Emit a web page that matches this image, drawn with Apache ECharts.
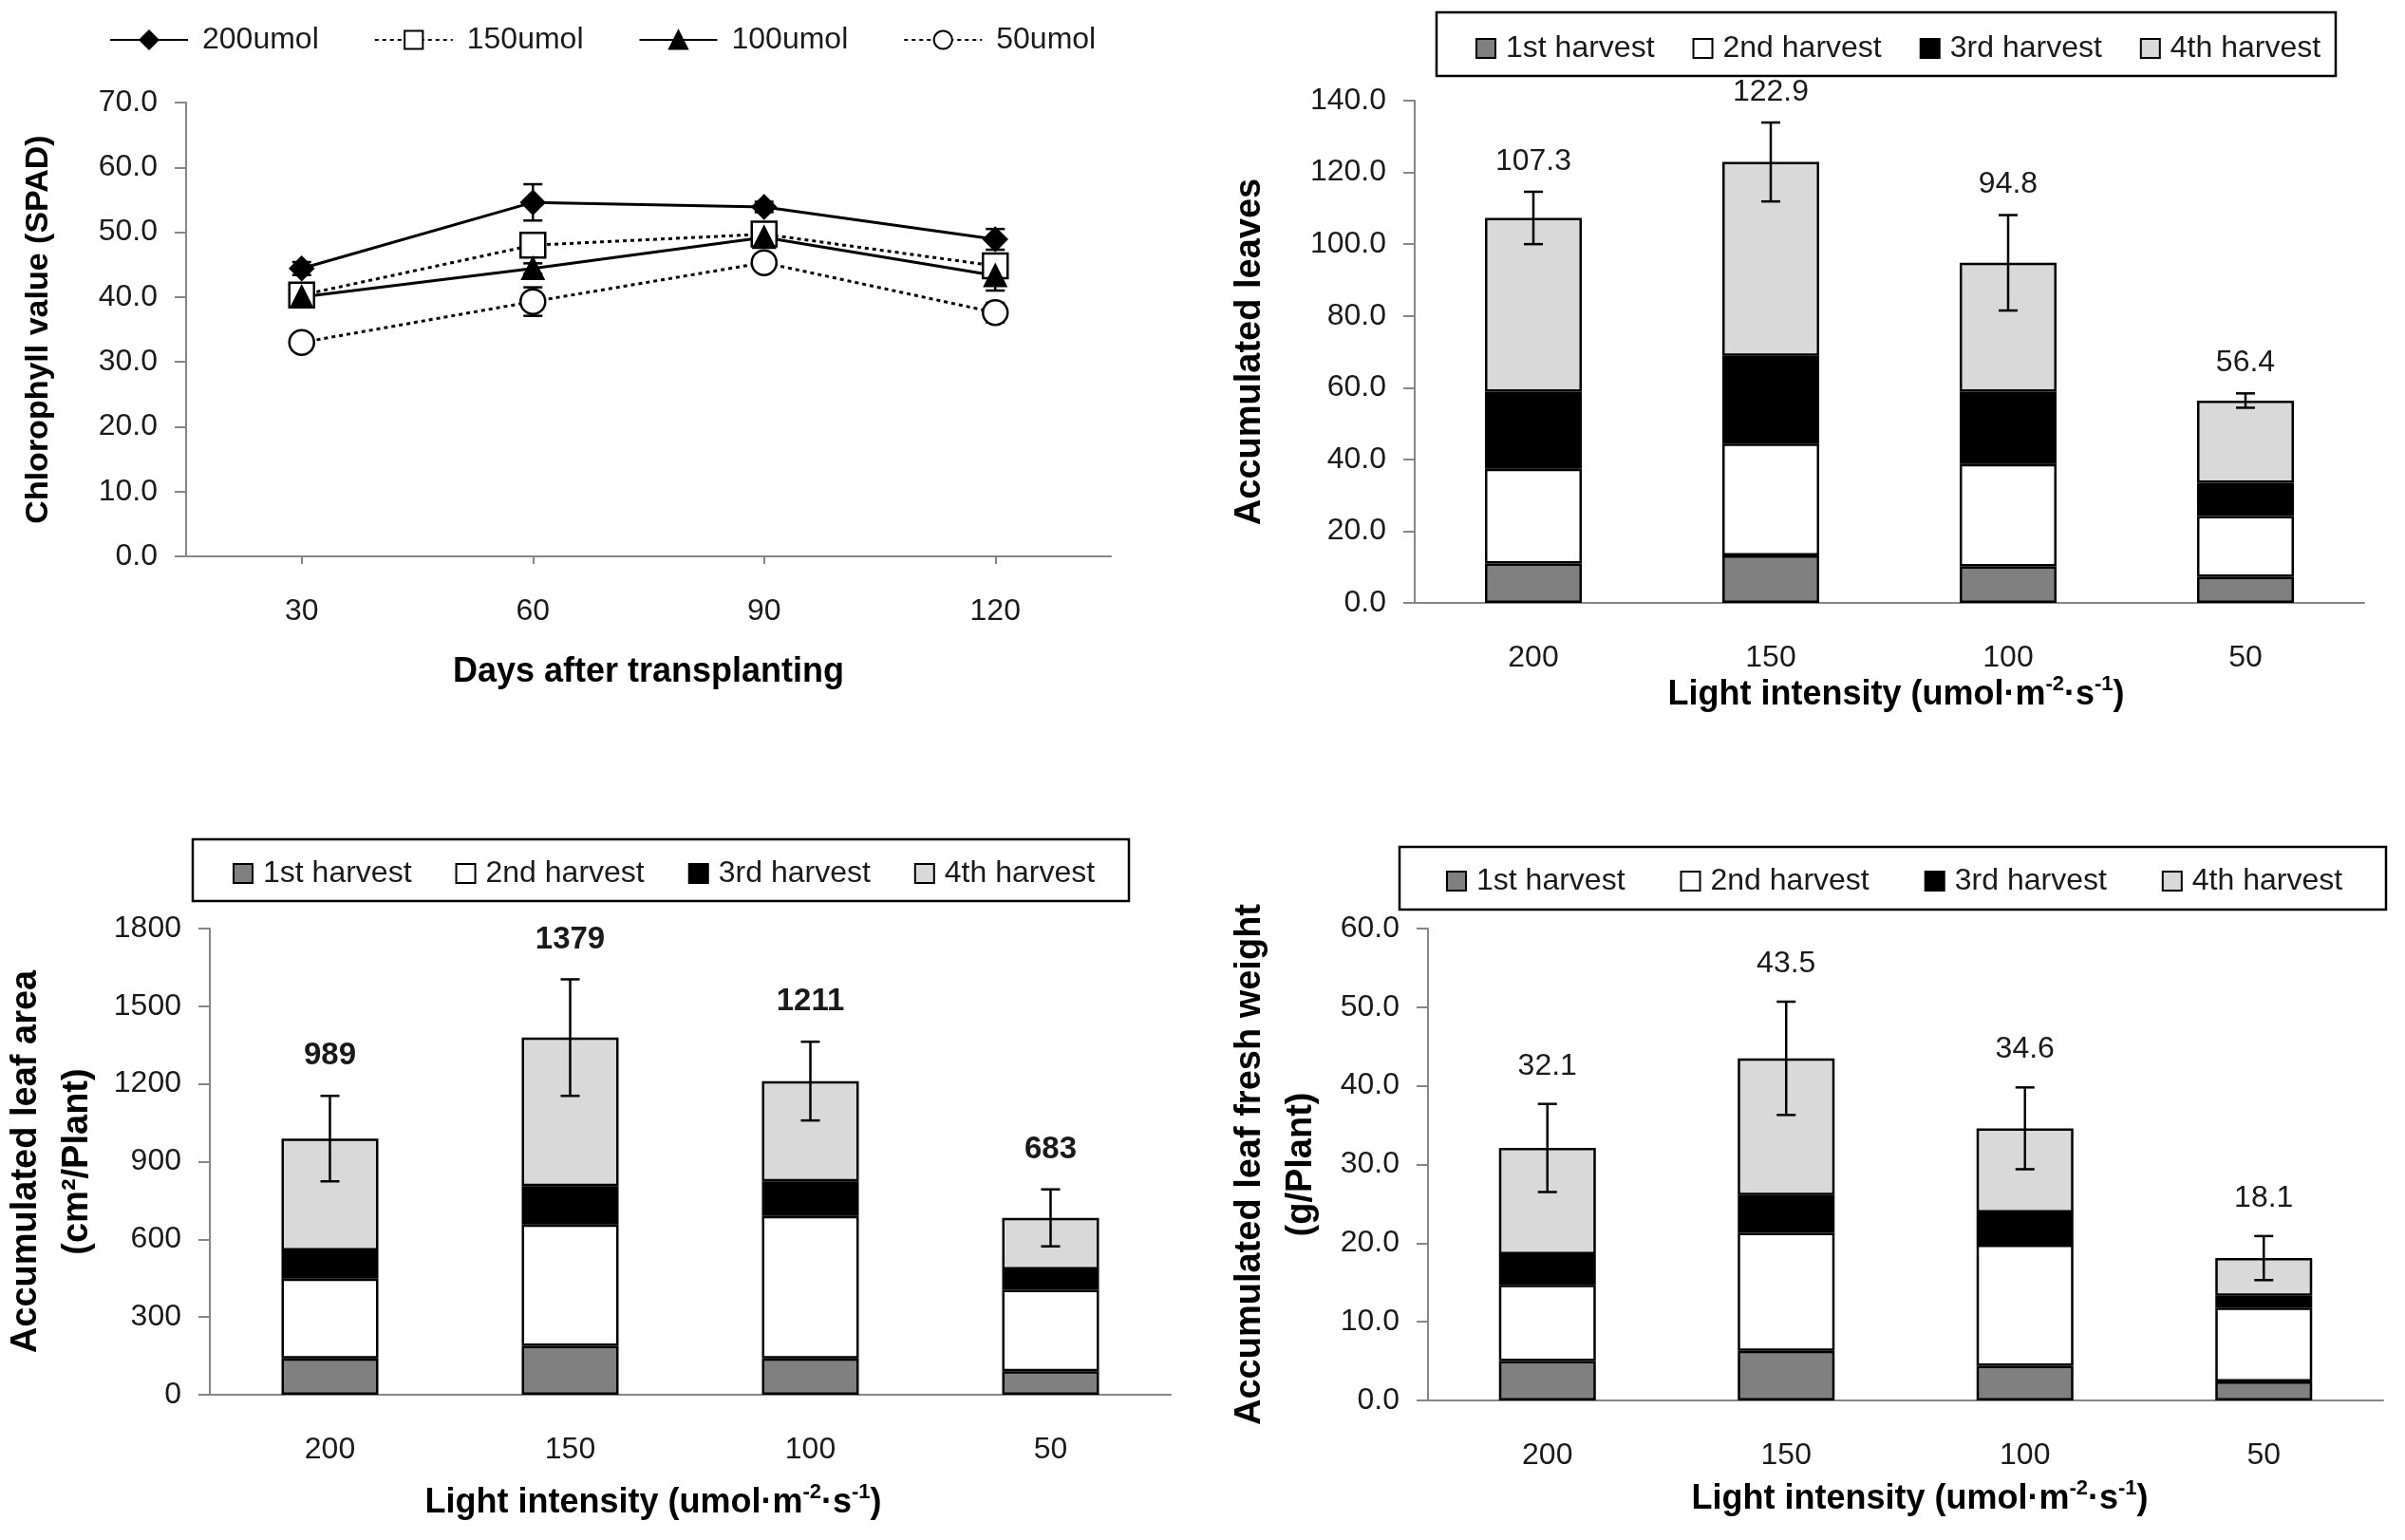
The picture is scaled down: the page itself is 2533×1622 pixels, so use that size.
<!DOCTYPE html>
<html>
<head>
<meta charset="utf-8">
<title>Light intensity charts</title>
<script src="https://cdn.jsdelivr.net/npm/echarts@6/dist/echarts.min.js"></script>
<style>
  html, body { margin: 0; padding: 0; background: #fff; }
  #chart { width: 2533px; height: 1622px; }
</style>
</head>
<body>
<div id="chart"></div>
<script>
// categories
var dayCats = ['30', '60', '90', '120'];
var lightCats = ['200', '150', '100', '50'];
var harvestNames = ['1st harvest', '2nd harvest', '3rd harvest', '4th harvest'];
var lineNames = ['200umol', '150umol', '100umol', '50umol'];

// chlorophyll (SPAD)
var spad200 = [44.4, 54.6, 53.9, 48.9];
var spad150 = [40.3, 48.0, 49.7, 44.8];
var spad100 = [40.0, 44.4, 49.2, 43.3];
var spad50 = [33.0, 39.3, 45.3, 37.6];
var spadErr200 = [1.0, 2.8, 0.8, 1.6];
var spadErr150 = [0.8, 1.4, 1.0, 1.4];
var spadErr100 = [0.8, 0.8, 1.0, 2.3];
var spadErr50 = [0.8, 2.2, 1.0, 1.5];

// accumulated leaves
var leaves1 = [11.0, 13.2, 10.2, 7.3];
var leaves2 = [26.4, 31.2, 28.5, 16.9];
var leaves3 = [21.5, 24.5, 20.2, 9.3];
var leaves4 = [48.4, 54.0, 35.9, 22.9];
var leavesTotal = [107.3, 122.9, 94.8, 56.4];
var leavesErr = [7.3, 11.0, 13.3, 2.0];

// accumulated leaf area
var area1 = [140, 189, 140, 91];
var area2 = [308, 468, 550, 314];
var area3 = [109, 149, 134, 79];
var area4 = [432, 573, 387, 199];
var areaTotal = [989, 1379, 1211, 683];
var areaErr = [165, 225, 152, 110];

// accumulated leaf fresh weight
var weight1 = [5.0, 6.3, 4.4, 2.4];
var weight2 = [9.7, 15.0, 15.4, 9.4];
var weight3 = [3.9, 4.8, 4.1, 1.5];
var weight4 = [13.5, 17.4, 10.7, 4.8];
var weightTotal = [32.1, 43.5, 34.6, 18.1];
var weightErr = [5.6, 7.2, 5.2, 2.8];

var FONT = 'Liberation Sans, Arial, sans-serif';
var harvestColors = ['#808080', '#ffffff', '#000000', '#d9d9d9'];
var axisGray = '#868686';

var chart = echarts.init(document.getElementById('chart'));

function fix1(v) { return Number(v).toFixed(1); }
function plain(v) { return String(v); }

function yAxis(gi, max, interval, fmt, name, gap, size) {
  return {
    type: 'value', gridIndex: gi, min: 0, max: max, interval: interval,
    name: name, nameLocation: 'middle', nameRotate: 90, nameGap: gap,
    nameTextStyle: { fontFamily: FONT, fontWeight: 'bold', fontSize: size, color: '#000', lineHeight: 54 },
    axisLine: { show: true, lineStyle: { color: axisGray, width: 2 } },
    axisTick: { show: true, length: 12, lineStyle: { color: axisGray, width: 2 } },
    axisLabel: { formatter: fmt, fontFamily: FONT, fontSize: 32, color: '#1a1a1a', margin: 30 },
    splitLine: { show: false }
  };
}

var supRich = {
  t: { fontFamily: FONT, fontWeight: 'bold', fontSize: 36, color: '#000', lineHeight: 44 },
  s: { fontFamily: FONT, fontWeight: 'bold', fontSize: 22, color: '#000', lineHeight: 24, verticalAlign: 'top' }
};
var lightName = '{t|Light intensity (umol·m}{s|-2}{t|·s}{s|-1}{t|)}';

function xAxis(gi, cats, name, gap, rich, ticks, pad) {
  var ts = rich ? { rich: supRich } :
    { fontFamily: FONT, fontWeight: 'bold', fontSize: 36, color: '#000' };
  ts.padding = pad;
  return {
    type: 'category', gridIndex: gi, data: cats,
    name: name, nameLocation: 'middle', nameGap: gap, nameTextStyle: ts,
    axisLine: { lineStyle: { color: axisGray, width: 2 } },
    axisTick: { show: ticks, alignWithLabel: true, length: 8, lineStyle: { color: axisGray, width: 2 } },
    axisLabel: { fontFamily: FONT, fontSize: 32, color: '#1a1a1a', margin: 42 }
  };
}

function barSeries(xi, stack, arrays) {
  return arrays.map(function (arr, k) {
    return {
      name: harvestNames[k], type: 'bar', stack: stack,
      xAxisIndex: xi, yAxisIndex: xi, barWidth: 102,
      itemStyle: { color: harvestColors[k], borderColor: '#000', borderWidth: 2.5 },
      data: arr
    };
  });
}

// error bars (and optional value label above them)
function errSeries(xi, means, errs, cap, z, label) {
  return {
    type: 'custom', xAxisIndex: xi, yAxisIndex: xi, z: z, silent: true,
    data: means.map(function (m, i) { return [i, m, errs[i]]; }),
    renderItem: function (params, api) {
      var i = api.value(0), m = api.value(1), e = api.value(2);
      var top = api.coord([i, m + e]);
      var bot = api.coord([i, m - e]);
      var st = { stroke: '#000', lineWidth: 2.5 };
      var kids = [
        { type: 'line', shape: { x1: top[0], y1: top[1], x2: bot[0], y2: bot[1] }, style: st },
        { type: 'line', shape: { x1: top[0] - cap, y1: top[1], x2: top[0] + cap, y2: top[1] }, style: st },
        { type: 'line', shape: { x1: bot[0] - cap, y1: bot[1], x2: bot[0] + cap, y2: bot[1] }, style: st }
      ];
      if (label) {
        kids.push({
          type: 'text',
          style: {
            text: label.fmt(m), x: top[0], y: top[1] - label.offset,
            align: 'center', verticalAlign: 'middle',
            font: (label.bold ? 'bold ' : '') + label.size + 'px ' + FONT, fill: '#1a1a1a'
          }
        });
      }
      return { type: 'group', children: kids };
    }
  };
}

function lineSeries(name, data, symbol, size, dotted, hollow) {
  return {
    name: name, type: 'line', xAxisIndex: 0, yAxisIndex: 0,
    data: data, symbol: symbol, symbolSize: size, z: 10,
    lineStyle: { color: '#000', width: 3, type: dotted ? [4, 4] : 'solid' },
    itemStyle: { color: hollow ? '#fff' : '#000', borderColor: '#000', borderWidth: 2.5 }
  };
}

function harvestLegend(left, top, gap) {
  return {
    data: harvestNames, left: left, top: top, itemGap: gap,
    itemWidth: 20, itemHeight: 20, icon: 'rect', selectedMode: false,
    textStyle: { fontFamily: FONT, fontSize: 32, color: '#1a1a1a', padding: [0, 0, 0, 6] }
  };
}

function box(x, y, w, h) {
  return { type: 'rect', shape: { x: x, y: y, width: w, height: h },
    style: { fill: 'none', stroke: '#000', lineWidth: 2.5 } };
}

var option = {
  backgroundColor: '#fff',
  animation: false,
  grid: [
    { left: 196, top: 108, width: 974, height: 478 },
    { left: 1490, top: 106, width: 1000, height: 529 },
    { left: 201, top: 978, width: 1032, height: 491 },
    { left: 1504, top: 978, width: 1006, height: 497 }
  ],
  legend: [
    {
      data: lineNames, left: 110, top: 21, itemGap: 58, itemWidth: 82, itemHeight: 24,
      selectedMode: false,
      textStyle: { fontFamily: FONT, fontSize: 32, color: '#1a1a1a', padding: [0, 0, 0, 10] }
    },
    harvestLegend(1549, 30, 40),
    harvestLegend(240, 899, 46),
    harvestLegend(1518, 907, 58)
  ],
  graphic: [
    box(1513, 13, 947, 67),
    box(203, 884, 986, 65),
    box(1474, 892, 1039, 66)
  ],
  xAxis: [
    xAxis(0, dayCats, 'Days after transplanting', 104, false, true, 0),
    xAxis(1, lightCats, lightName, 70, true, false, [0, 0, 0, 14]),
    xAxis(2, lightCats, lightName, 92, true, false, [0, 78, 0, 0]),
    xAxis(3, lightCats, lightName, 82, true, false, [0, 0, 0, 30])
  ],
  yAxis: [
    yAxis(0, 70, 10, fix1, 'Chlorophyll value (SPAD)', 128, 34),
    yAxis(1, 140, 20, fix1, 'Accumulated leaves', 146, 38),
    yAxis(2, 1800, 300, plain, 'Accumulated leaf area\n(cm²/Plant)', 112, 38),
    yAxis(3, 60, 10, fix1, 'Accumulated leaf fresh weight\n(g/Plant)', 106, 38)
  ],
  series: [].concat(
    [
      errSeries(0, spad200, spadErr200, 10, 5, null),
      errSeries(0, spad150, spadErr150, 10, 5, null),
      errSeries(0, spad100, spadErr100, 10, 5, null),
      errSeries(0, spad50, spadErr50, 10, 5, null),
      lineSeries('200umol', spad200, 'diamond', 24, false, false),
      lineSeries('150umol', spad150, 'rect', 26, true, true),
      lineSeries('100umol', spad100, 'triangle', 22, false, false),
      lineSeries('50umol', spad50, 'circle', 26, true, true)
    ],
    barSeries(1, 'leaves', [leaves1, leaves2, leaves3, leaves4]),
    [errSeries(1, leavesTotal, leavesErr, 10, 20, { fmt: fix1, offset: 32, size: 32, bold: false })],
    barSeries(2, 'area', [area1, area2, area3, area4]),
    [errSeries(2, areaTotal, areaErr, 10, 20, { fmt: function (v) { return String(Math.round(v)); }, offset: 42, size: 33, bold: true })],
    barSeries(3, 'weight', [weight1, weight2, weight3, weight4]),
    [errSeries(3, weightTotal, weightErr, 10, 20, { fmt: fix1, offset: 40, size: 32, bold: false })]
  )
};

chart.setOption(option);
</script>
</body>
</html>
